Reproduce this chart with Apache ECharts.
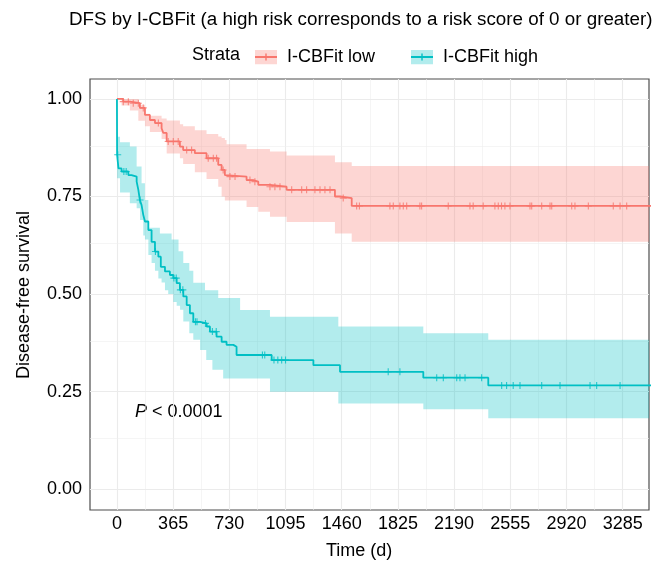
<!DOCTYPE html>
<html><head><meta charset="utf-8">
<script src="https://cdn.jsdelivr.net/npm/echarts@6/dist/echarts.min.js"></script>
<style>html,body{margin:0;padding:0;background:#fff}#c{width:652px;height:562px}</style>
</head><body><div id="c"></div>
<script>
// ---- tick labels / grid ----
const xTicks = [0, 365, 730, 1095, 1460, 1825, 2190, 2555, 2920, 3285];
const xMinor = [182.5, 547.5, 912.5, 1277.5, 1642.5, 2007.5, 2372.5, 2737.5, 3102.5];
const yTicks = [0, 0.25, 0.5, 0.75, 1];
const yMinor = [0.125, 0.375, 0.625, 0.875];
const lastFollowUp = 3500;

// ---- I-CBFit low (KM estimate) ----
const lowTime = [0, 41, 84, 149, 182, 214, 247, 290, 301, 323, 409, 430, 506, 582, 658, 680, 701, 712, 842, 885, 918, 994, 1102, 1416, 1449, 1525];
const lowSurv = [1.0, 0.993, 0.989, 0.977, 0.959, 0.946, 0.938, 0.925, 0.913, 0.891, 0.878, 0.869, 0.861, 0.848, 0.831, 0.818, 0.805, 0.801, 0.792, 0.788, 0.780, 0.775, 0.767, 0.750, 0.746, 0.726];
const lowCiTime  = [0, 30, 84, 139, 182, 214, 290, 323, 409, 430, 506, 582, 658, 680, 701, 712, 842, 918, 994, 1102, 1416, 1525];
const lowCiUpper = [1, 1, 1, 0.985, 0.962, 0.957, 0.950, 0.945, 0.935, 0.930, 0.920, 0.910, 0.904, 0.900, 0.895, 0.884, 0.872, 0.872, 0.865, 0.855, 0.838, 0.828];
const lowCiLower = [1, 0.983, 0.970, 0.944, 0.930, 0.915, 0.897, 0.860, 0.848, 0.833, 0.812, 0.795, 0.775, 0.750, 0.740, 0.740, 0.723, 0.711, 0.698, 0.685, 0.655, 0.634];
const lowCensor = [41, 74, 106, 139, 171, 269, 333, 366, 398, 453, 485, 593, 626, 647, 690, 734, 767, 864, 896, 994, 1026, 1059, 1135, 1200, 1232, 1286, 1319, 1351, 1384, 1470, 1557, 1575, 1773, 1795, 1838, 1860, 1882, 1968, 1979, 2152, 2293, 2314, 2379, 2455, 2477, 2498, 2520, 2553, 2683, 2694, 2759, 2813, 2824, 2954, 2975, 3062, 3224, 3268, 3311];

// ---- I-CBFit high (KM estimate) ----
const highTime = [0, 1, 10, 30, 74, 95, 128, 139, 149, 160, 171, 182, 204, 225, 247, 269, 285, 312, 344, 366, 388, 409, 431, 453, 474, 496, 540, 583, 604, 647, 680, 712, 756, 777, 1005, 1276, 1449, 1990, 2412];
const highSurv = [1.0, 0.857, 0.822, 0.814, 0.805, 0.801, 0.788, 0.767, 0.741, 0.728, 0.703, 0.686, 0.664, 0.634, 0.609, 0.596, 0.570, 0.558, 0.549, 0.541, 0.528, 0.511, 0.494, 0.472, 0.451, 0.429, 0.425, 0.417, 0.404, 0.391, 0.378, 0.370, 0.365, 0.344, 0.331, 0.318, 0.301, 0.286, 0.266];
const highCiTime  = [0, 1, 20, 84, 128, 150, 160, 171, 182, 204, 225, 247, 269, 279, 290, 312, 333, 355, 366, 388, 400, 410, 431, 470, 496, 540, 572, 580, 620, 658, 690, 800, 994, 1438, 1990, 2412];
const highCiUpper = [1, 0.903, 0.889, 0.878, 0.827, 0.827, 0.784, 0.784, 0.741, 0.670, 0.670, 0.670, 0.670, 0.655, 0.655, 0.655, 0.655, 0.640, 0.640, 0.640, 0.610, 0.610, 0.580, 0.560, 0.529, 0.529, 0.510, 0.510, 0.510, 0.490, 0.490, 0.459, 0.442, 0.417, 0.400, 0.383];
const highCiLower = [1, 0.797, 0.760, 0.733, 0.720, 0.690, 0.690, 0.650, 0.640, 0.600, 0.580, 0.560, 0.540, 0.540, 0.530, 0.510, 0.500, 0.500, 0.480, 0.470, 0.470, 0.460, 0.430, 0.400, 0.383, 0.357, 0.357, 0.331, 0.306, 0.306, 0.284, 0.284, 0.250, 0.220, 0.205, 0.182];
const highCensor = [5, 45, 60, 150, 250, 370, 385, 412, 428, 510, 520, 575, 620, 645, 945, 960, 1020, 1045, 1070, 1095, 1762, 1838, 2077, 2120, 2207, 2228, 2261, 2369, 2499, 2531, 2574, 2618, 2759, 2878, 3073, 3116, 3268];

const titleText = 'DFS by I-CBFit (a high risk corresponds to a risk score of 0 or greater)';
const names = ['I-CBFit low', 'I-CBFit high'];
const colors = ['#F8766D', '#00BFC4'];
const fills = ['rgba(248,118,109,0.3)', 'rgba(0,191,196,0.3)'];
const FONT = '"Liberation Sans", Arial, Helvetica, sans-serif';

function steps(T, S) {
  const d = T.map((t, i) => [t, S[i]]);
  d.push([lastFollowUp, S[S.length - 1]]);
  return d;
}
function stepAt(T, S, t) {
  let v = S[0];
  for (let i = 0; i < T.length; i++) if (T[i] <= t) v = S[i];
  return v;
}
function censorPts(C, T, S) { return C.map(t => [t, stepAt(T, S, t)]); }

function keyIcon(col, fill) {
  const svg = '<svg xmlns="http://www.w3.org/2000/svg" width="54" height="30" viewBox="0 0 27 15">' +
    '<rect x="0" y="0" width="22" height="15" fill="' + fill + '"/>' +
    '<line x1="0" y1="7.5" x2="22" y2="7.5" stroke="' + col + '" stroke-width="1.8"/>' +
    '<line x1="11" y1="4" x2="11" y2="11" stroke="' + col + '" stroke-width="1.4"/></svg>';
  return 'image://data:image/svg+xml;charset=utf-8,' + encodeURIComponent(svg);
}

const crossSymbol = 'path://M4.2,0h1.6v10h-1.6zM0,4.2h10v1.6h-10z';

const gridLines = [].concat(
  xTicks.map(v => ({ xAxis: v, lineStyle: { width: 1.1, color: '#EBEBEB' } })),
  xMinor.map(v => ({ xAxis: v, lineStyle: { width: 0.6, color: '#EFEFEF' } })),
  yTicks.map(v => ({ yAxis: v, lineStyle: { width: 1.1, color: '#EBEBEB' } })),
  yMinor.map(v => ({ yAxis: v, lineStyle: { width: 0.6, color: '#EFEFEF' } }))
);

// confidence band as one step polygon (custom series, coords via api.coord)
function bandSeries(idx, T, U, L) {
  const data = T.map((t, i) => [t, i + 1 < T.length ? T[i + 1] : lastFollowUp, L[i], U[i]]);
  return {
    type: 'custom', name: 'ci' + idx, data: data, clip: true, silent: true, z: 2,
    encode: { x: [0, 1], y: [2, 3] },
    renderItem: function (params, api) {
      if (params.dataIndex !== 0) return null;
      const pts = [];
      for (let i = 0; i < data.length; i++) {
        pts.push(api.coord([data[i][0], data[i][3]]));
        pts.push(api.coord([data[i][1], data[i][3]]));
      }
      for (let i = data.length - 1; i >= 0; i--) {
        pts.push(api.coord([data[i][1], data[i][2]]));
        pts.push(api.coord([data[i][0], data[i][2]]));
      }
      return { type: 'polygon', shape: { points: pts }, style: { fill: fills[idx] } };
    }
  };
}

const series = [];
series.push({
  type: 'line', name: 'grid', data: [], silent: true,
  markLine: { silent: true, symbol: 'none', z: 1, animation: false, label: { show: false }, lineStyle: { type: 'solid' }, data: gridLines }
});
series.push(bandSeries(0, lowCiTime, lowCiUpper, lowCiLower));
series.push(bandSeries(1, highCiTime, highCiUpper, highCiLower));
series.push({ type: 'line', name: names[0], step: 'end', data: steps(lowTime, lowSurv), showSymbol: false, symbol: 'none', color: colors[0], lineStyle: { color: colors[0], width: 1.8 }, z: 3 });
series.push({ type: 'line', name: names[1], step: 'end', data: steps(highTime, highSurv), showSymbol: false, symbol: 'none', color: colors[1], lineStyle: { color: colors[1], width: 1.8 }, z: 3 });
series.push({ type: 'scatter', name: 'censorLow', data: censorPts(lowCensor, lowTime, lowSurv), symbol: crossSymbol, symbolSize: 7, itemStyle: { color: colors[0] }, silent: true, z: 4 });
series.push({ type: 'scatter', name: 'censorHigh', data: censorPts(highCensor, highTime, highSurv), symbol: crossSymbol, symbolSize: 7, itemStyle: { color: colors[1] }, silent: true, z: 4 });

const chart = echarts.init(document.getElementById('c'), null, { renderer: 'canvas' });
chart.setOption({
  animation: false,
  backgroundColor: '#fff',
  textStyle: { fontFamily: FONT },
  grid: { left: 90, right: 3, top: 79, bottom: 52, show: true, borderColor: '#4D4D4D', borderWidth: 1.2, backgroundColor: 'transparent', containLabel: false },
  legend: {
    left: 255, top: 48, padding: 0, itemWidth: 27, itemHeight: 15, itemGap: 36,
    selectedMode: false,
    textStyle: { fontSize: 18, color: '#000', fontFamily: FONT },
    data: [
      { name: names[0], icon: keyIcon(colors[0], fills[0]) },
      { name: names[1], icon: keyIcon(colors[1], fills[1]) }
    ]
  },
  xAxis: {
    type: 'value', min: -175, max: 3456,
    axisLine: { show: false },
    splitLine: { show: false },
    axisTick: { show: true, customValues: xTicks, length: 3, lineStyle: { color: '#333', width: 1 } },
    axisLabel: { customValues: xTicks, fontSize: 18, color: '#000', margin: 5, fontFamily: FONT, formatter: v => String(v) }
  },
  yAxis: {
    type: 'value', min: -0.053, max: 1.051,
    axisLine: { show: false },
    splitLine: { show: false },
    axisTick: { show: true, customValues: yTicks, length: 3, lineStyle: { color: '#333', width: 1 } },
    axisLabel: { customValues: yTicks, fontSize: 18, color: '#000', margin: 8, fontFamily: FONT, formatter: v => v.toFixed(2) }
  },
  graphic: [
    { type: 'text', left: 69, top: 10, style: { text: titleText, font: '18.8px ' + FONT, fill: '#000' } },
    { type: 'text', left: 192, top: 46, style: { text: 'Strata', font: '18px ' + FONT, fill: '#000' } },
    { type: 'text', left: 326, top: 542, style: { text: 'Time (d)', font: '18px ' + FONT, fill: '#000' } },
    { type: 'text', x: 24, y: 295, rotation: Math.PI / 2, style: { text: 'Disease-free survival', font: '18px ' + FONT, fill: '#000', align: 'center', verticalAlign: 'middle' } },
    { type: 'text', left: 135, top: 403, style: { text: '{i|P} < 0.0001', font: '18px ' + FONT, fill: '#000', rich: { i: { fontStyle: 'italic', fontSize: 18, fontFamily: FONT } } } }
  ],
  series: series
});
</script>
</body></html>
